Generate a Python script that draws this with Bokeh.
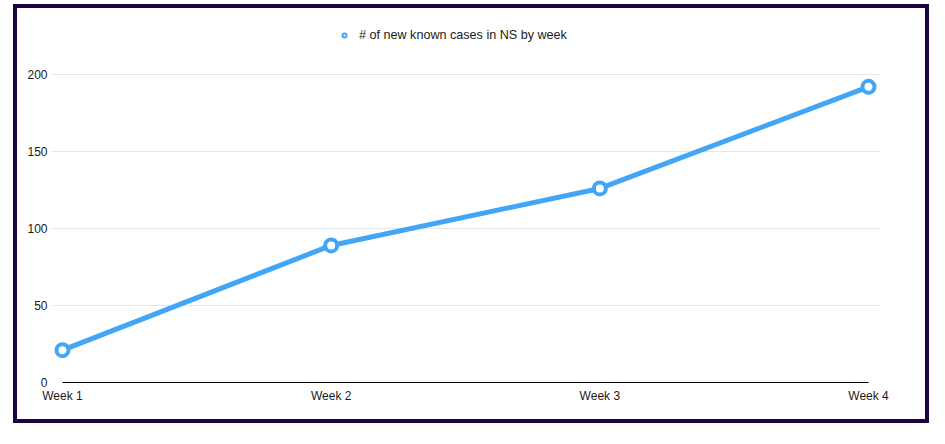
from bokeh.plotting import figure
from bokeh.models import (ColumnDataSource, FixedTicker, Legend, LegendItem,
                          Range1d)
from bokeh.embed import file_html
from bokeh.resources import INLINE

weeks = ["Week 1", "Week 2", "Week 3", "Week 4"]
cases = [21, 89, 126, 192]
y_ticks = [0, 50, 100, 150, 200]
series_name = "# of new known cases in NS by week"

BLUE = "#42a5f5"
FONT = "Liberation Sans"

xs = list(range(len(weeks)))
src = ColumnDataSource(dict(x=xs, y=cases))

p = figure(width=916, height=419, output_backend="svg", toolbar_location=None,
           x_range=Range1d(-0.0409, 3.0409), y_range=Range1d(0, 235.06),
           min_border_left=34, min_border_right=54, min_border_top=12,
           min_border_bottom=45,
           styles={"border": "4px solid #1a0340", "margin-left": "13px",
                   "margin-top": "4px"})
p.outline_line_color = None
p.background_fill_color = "white"
p.border_fill_color = "white"

line = p.line("x", "y", source=src, line_color=BLUE, line_width=5)
legend_r = p.scatter("x", "y", source=src, size=12, line_color=BLUE,
                     line_width=2, fill_color="white")
pts = p.scatter("x", "y", source=src, size=12, line_color=BLUE, line_width=4,
                fill_color="white")

# axes
p.xaxis.ticker = FixedTicker(ticks=xs)
p.xaxis.major_label_overrides = {i: w for i, w in enumerate(weeks)}
p.xaxis.bounds = (0, len(weeks) - 1)
p.xaxis.axis_line_color = "black"
p.xaxis.axis_line_width = 1
p.xaxis.major_tick_line_color = None
p.xaxis.minor_tick_line_color = None
p.xaxis.major_tick_out = 0
p.xaxis.major_tick_in = 0
p.xaxis.major_label_standoff = 6

p.yaxis.ticker = FixedTicker(ticks=y_ticks)
p.yaxis.axis_line_color = None
p.yaxis.major_tick_line_color = None
p.yaxis.minor_tick_line_color = None
p.yaxis.major_tick_out = 0
p.yaxis.major_tick_in = 0
p.yaxis.major_label_standoff = 4

for ax in (p.xaxis, p.yaxis):
    ax.major_label_text_font = FONT
    ax.major_label_text_font_size = "12px"
    ax.major_label_text_color = "#1a1a1a"

p.xgrid.grid_line_color = None
p.ygrid.ticker = FixedTicker(ticks=y_ticks[1:])
p.ygrid.grid_line_color = "#e6e6e6"
p.ygrid.grid_line_width = 1

legend = Legend(items=[LegendItem(label=series_name, renderers=[legend_r])],
                location=(288, 340), orientation="horizontal",
                glyph_width=10, glyph_height=10, label_standoff=10,
                label_height=14, padding=0, margin=0, spacing=0,
                border_line_color=None, background_fill_alpha=0,
                label_text_font=FONT, label_text_font_size="12.6px",
                label_text_color="#1a1a1a")
p.add_layout(legend)

open("out.html", "w").write(file_html(p, INLINE))
